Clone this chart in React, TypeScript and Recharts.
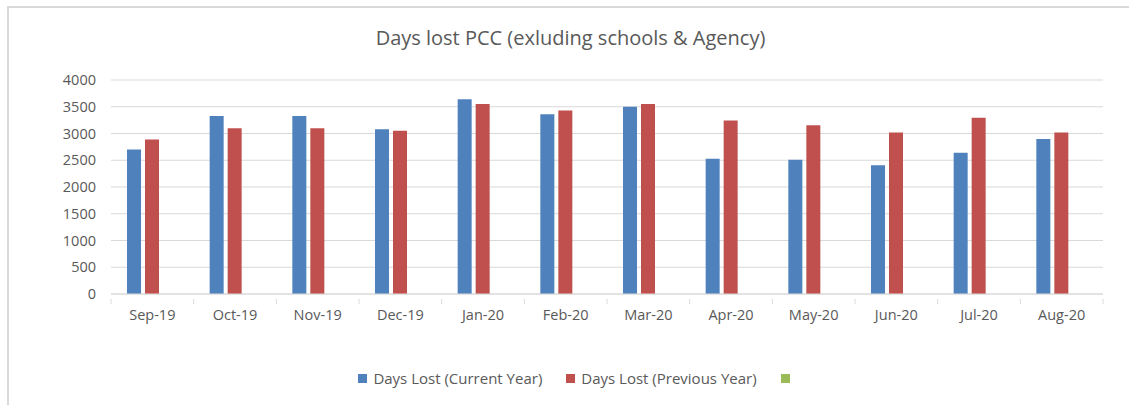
import React from 'react';
import { BarChart, Bar, XAxis, YAxis, CartesianGrid, Legend } from 'recharts';

const months = ['Sep-19', 'Oct-19', 'Nov-19', 'Dec-19', 'Jan-20', 'Feb-20', 'Mar-20', 'Apr-20', 'May-20', 'Jun-20', 'Jul-20', 'Aug-20'];
const currentYear = [2700, 3325, 3325, 3080, 3640, 3360, 3500, 2530, 2510, 2405, 2640, 2895];
const previousYear = [2890, 3100, 3100, 3050, 3550, 3430, 3550, 3245, 3155, 3020, 3295, 3020];
const blank: (number | null)[] = months.map(() => null);
const yTicks = [0, 500, 1000, 1500, 2000, 2500, 3000, 3500, 4000];
const seriesOrder = ['current', 'previous', 'blank'];

const data = months.map((m, i) => ({
  month: m,
  current: currentYear[i],
  previous: previousYear[i],
  blank: blank[i],
}));

const FONT = '"Open Sans", "Noto Sans", sans-serif';
const TEXT = '#595959';
const GRID = '#d9d9d9';

const MonthTick = ({ x, y, payload, index }: any) => {
  const half = payload?.offset ?? 0;
  return (
    <g>
      <line x1={x - half} y1={y - 8} x2={x - half} y2={y - 3} stroke={GRID} />
      {index === months.length - 1 && (
        <line x1={x + half} y1={y - 8} x2={x + half} y2={y - 3} stroke={GRID} />
      )}
      <text x={x} y={y} dy={13} textAnchor="middle" fill={TEXT} fontSize={14.5} fontFamily={FONT}>
        {payload.value}
      </text>
    </g>
  );
};

const LegendContent = ({ payload }: any) => {
  const items = [...(payload || [])].sort(
    (a: any, b: any) => seriesOrder.indexOf(a.dataKey) - seriesOrder.indexOf(b.dataKey)
  );
  return (
    <div style={{ display: 'flex', justifyContent: 'center', gap: 24, fontFamily: FONT, fontSize: 15, color: TEXT }}>
      {items.map((p: any) => (
        <div key={p.dataKey} style={{ display: 'flex', alignItems: 'center', gap: 6 }}>
          <span style={{ width: 9, height: 9, background: p.color, display: 'inline-block' }} />
          <span>{p.value}</span>
        </div>
      ))}
    </div>
  );
};

export default function App() {
  return (
    <div style={{ position: 'fixed', left: 0, top: 0, width: 1129, height: 405, background: '#fff' }}>
      <div style={{ position: 'absolute', left: 7, top: 6, right: 0, bottom: 0, borderTop: `2px solid ${GRID}`, borderLeft: `2px solid ${GRID}` }} />
      <div style={{ position: 'absolute', left: 6, width: 1129, top: 24, textAlign: 'center', fontFamily: FONT, fontSize: 20, color: TEXT }}>
        Days lost PCC (exluding schools &amp; Agency)
      </div>
      <div style={{ position: 'absolute', left: 0, top: 0 }}>
        <BarChart width={1129} height={405} data={data} margin={{ top: 80, right: 26, bottom: 17, left: 51 }} barSize={14} barGap={4}>
          <CartesianGrid vertical={false} stroke={GRID} />
          <XAxis
            dataKey="month"
            height={74}
            stroke={GRID}
            tickLine={false}
            tickMargin={7}
            tick={<MonthTick />}
            interval={0}
          />
          <YAxis
            width={60}
            domain={[0, 4000]}
            ticks={yTicks}
            axisLine={false}
            tickLine={false}
            tickMargin={9}
            tick={{ fill: TEXT, fontSize: 14.5, fontFamily: FONT }}
          />
          <Legend verticalAlign="bottom" height={20} content={<LegendContent />} />
          <Bar dataKey="current" name="Days Lost (Current Year)" fill="#4f81bd" isAnimationActive={false} />
          <Bar dataKey="previous" name="Days Lost (Previous Year)" fill="#c0504d" isAnimationActive={false} />
          <Bar dataKey="blank" name="" fill="#9bbb59" isAnimationActive={false} />
        </BarChart>
      </div>
    </div>
  );
}
